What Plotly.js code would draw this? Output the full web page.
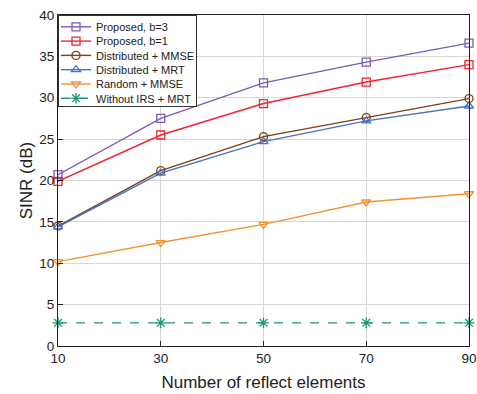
<!DOCTYPE html>
<html><head><meta charset="utf-8">
<script src="https://cdn.plot.ly/plotly-3.0.1.min.js"></script>
<style>body{margin:0;padding:0;background:#fff}#chart{width:477px;height:394px}</style>
</head><body><div id="chart"></div>
<script>
const xVals = [10, 30, 50, 70, 90];
const proposedB3 = [20.7, 27.5, 31.8, 34.3, 36.6];
const proposedB1 = [19.9, 25.5, 29.3, 31.9, 34.0];
const distMMSE = [14.5, 21.2, 25.3, 27.6, 29.9];
const distMRT = [14.4, 20.9, 24.7, 27.2, 29.0];
const randomMMSE = [10.2, 12.5, 14.7, 17.4, 18.4];
const withoutIRS = [2.8, 2.8, 2.8, 2.8, 2.8];
const seriesNames = ['Proposed, b=3', 'Proposed, b=1', 'Distributed + MMSE', 'Distributed + MRT', 'Random + MMSE', 'Without IRS + MRT'];

function tr(y, name, color, symbol, dash, msize) {
  return {x: xVals, y: y, name: name, type: 'scatter', mode: 'lines+markers', cliponaxis: false,
    line: {color: color, width: 1.4, dash: dash || 'solid'},
    marker: {symbol: symbol, size: msize || 8, color: color, line: {color: color, width: 1.3}}};
}
const data = [
  tr(proposedB3, seriesNames[0], '#7b5ab6', 'square-open'),
  tr(proposedB1, seriesNames[1], '#f5222d', 'square-open'),
  tr(distMMSE, seriesNames[2], '#7f3f12', 'circle-open'),
  tr(distMRT, seriesNames[3], '#4472c4', 'triangle-up-open'),
  tr(randomMMSE, seriesNames[4], '#f39233', 'triangle-down-open'),
  tr(withoutIRS, seriesNames[5], '#1b9a6b', 'asterisk-open', 'dash', 9)
];
const axBase = {showline: true, mirror: true, linecolor: '#222', linewidth: 1,
  ticks: 'inside', ticklen: 5, tickcolor: '#222', showgrid: true, gridcolor: '#d6d6d6', gridwidth: 1,
  zeroline: false, tickfont: {size: 13.5, color: '#222'}};
const layout = {
  width: 477, height: 394,
  margin: {l: 58, r: 8, t: 15, b: 48},
  paper_bgcolor: '#fff', plot_bgcolor: '#fff',
  font: {family: 'Liberation Sans, Arial, sans-serif', color: '#222'},
  xaxis: Object.assign({}, axBase, {range: [10, 90], tickvals: xVals,
    title: {text: 'Number of reflect elements', font: {size: 17}, standoff: 10}}),
  yaxis: Object.assign({}, axBase, {range: [0, 40], dtick: 5,
    title: {text: 'SINR (dB)', font: {size: 17}, standoff: 2}}),
  legend: {x: 0, y: 1, xanchor: 'left', yanchor: 'top', bgcolor: '#fff', bordercolor: '#333', borderwidth: 1,
    font: {size: 11, color: '#222'}, tracegroupgap: 0, itemwidth: 30},
  showlegend: true
};
Plotly.newPlot('chart', data, layout, {displayModeBar: false, staticPlot: true}).then(function (gd) {
  // compact legend rows to match the reference spacing
  const leg = gd.querySelector('.legend');
  if (!leg) return;
  const items = leg.querySelectorAll('.traces');
  const rowH = 14.3, first = 11.8, dx = -3;
  items.forEach(function (el, i) {
    const m = /translate\(\s*([-\d.]+)[ ,]+([-\d.]+)\s*\)/.exec(el.getAttribute('transform') || '');
    const x = m ? parseFloat(m[1]) : 1;
    el.setAttribute('transform', 'translate(' + (x + dx) + ',' + (first + i * rowH) + ')');
  });
  const bg = leg.querySelector('rect.bg');
  if (bg) {
    bg.setAttribute('height', first + (items.length - 1) * rowH + 7.5);
    const w = parseFloat(bg.getAttribute('width'));
    if (!isNaN(w)) bg.setAttribute('width', w - 7);
  }
});
</script></body></html>
